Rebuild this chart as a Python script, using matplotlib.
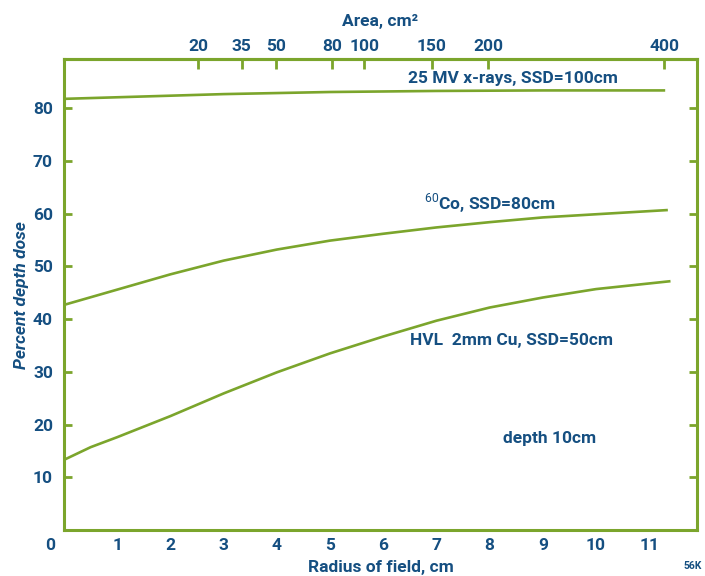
import numpy as np
import matplotlib
matplotlib.use('Agg')
import matplotlib.pyplot as plt

# percent depth dose at 10 cm depth vs radius of field
r_mv = [0, 1, 2, 3, 4, 5, 6, 7, 8, 9, 10, 11.3]
pdd_mv = [81.8, 82.1, 82.4, 82.7, 82.9, 83.1, 83.2, 83.3, 83.35, 83.4, 83.4, 83.4]

r_co = [0, 1, 2, 3, 4, 5, 6, 7, 8, 9, 10, 11.35]
pdd_co = [42.7, 45.6, 48.5, 51.1, 53.2, 54.9, 56.2, 57.4, 58.4, 59.3, 59.9, 60.7]

r_hvl = [0, 0.5, 1, 2, 3, 4, 5, 6, 7, 8, 9, 10, 11.4]
pdd_hvl = [13.3, 15.7, 17.6, 21.6, 25.9, 29.9, 33.5, 36.7, 39.7, 42.2, 44.1, 45.7, 47.2]

area_ticks = [20, 35, 50, 80, 100, 150, 200, 400]
radius_ticks = list(range(1, 12))
pdd_ticks = [10, 20, 30, 40, 50, 60, 70, 80]

green = '#7ba52c'
blue = '#154f81'
plt.rcParams['font.family'] = ['Roboto', 'DejaVu Sans']
plt.rcParams['mathtext.fontset'] = 'custom'
plt.rcParams['mathtext.rm'] = 'Roboto'

fig = plt.figure(figsize=(7.05, 5.76), dpi=100)
ax = fig.add_axes([0.0908, 0.080, 0.898, 0.817])

for r, p in [(r_mv, pdd_mv), (r_co, pdd_co), (r_hvl, pdd_hvl)]:
    ax.plot(r, p, color=green, lw=1.9, solid_capstyle='butt')

ax.set_xlim(0, 11.9)
ax.set_ylim(0, 89.3)

for s in ax.spines.values():
    s.set_color(green)
    s.set_linewidth(2.2)

fs = 12.5
ax.set_xticks(radius_ticks)
ax.set_yticks(pdd_ticks)
ax.tick_params(axis='x', length=0, pad=6, labelsize=fs, labelcolor=blue)
ax.tick_params(axis='y', direction='in', length=6, width=2, color=green,
               right=True, pad=8, labelsize=fs, labelcolor=blue)
for lab in ax.get_xticklabels() + ax.get_yticklabels():
    lab.set_fontweight('bold')

# origin label
ax.annotate('0', xy=(0, 0), xytext=(-10, -6), textcoords='offset points',
            ha='center', va='top', fontsize=fs, fontweight='bold', color=blue)

# area axis on top: area = pi * r^2
sec = ax.secondary_xaxis('top', functions=(lambda r: np.pi * np.clip(r, 0, None) ** 2,
                                           lambda a: np.sqrt(np.clip(a, 0, None) / np.pi)))
sec.set_xticks(area_ticks)
sec.tick_params(direction='in', length=7, width=2, color=green, pad=4,
                labelsize=fs, labelcolor=blue)
for lab in sec.get_xticklabels():
    lab.set_fontweight('bold')
sec.spines['top'].set_color(green)
sec.spines['top'].set_linewidth(2.2)
sec.set_xlabel('Area, cm²', color=blue, fontsize=fs, fontweight='bold', labelpad=9)

ax.set_xlabel('Radius of field, cm', color=blue, fontsize=fs, fontweight='bold', labelpad=4.5)
ax.set_ylabel('Percent depth dose', color=blue, fontsize=fs, fontstyle='italic',
              fontweight='bold', labelpad=3)

txt = dict(color=blue, fontsize=fs, fontweight='bold', ha='center', va='center')
ax.text(8.44, 85.6, '25 MV x-rays, SSD=100cm', **txt)
ax.text(8.0, 62.0, r'$^{60}$Co, SSD=80cm', **txt)
ax.text(8.42, 36.0, 'HVL  2mm Cu, SSD=50cm', **txt)
ax.text(9.12, 17.4, 'depth 10cm', **txt)

fig.text(0.983, 0.008, '56K', color=blue, fontsize=7.5, fontweight='bold', ha='center', va='bottom')

fig.savefig('out.png', dpi=100)
